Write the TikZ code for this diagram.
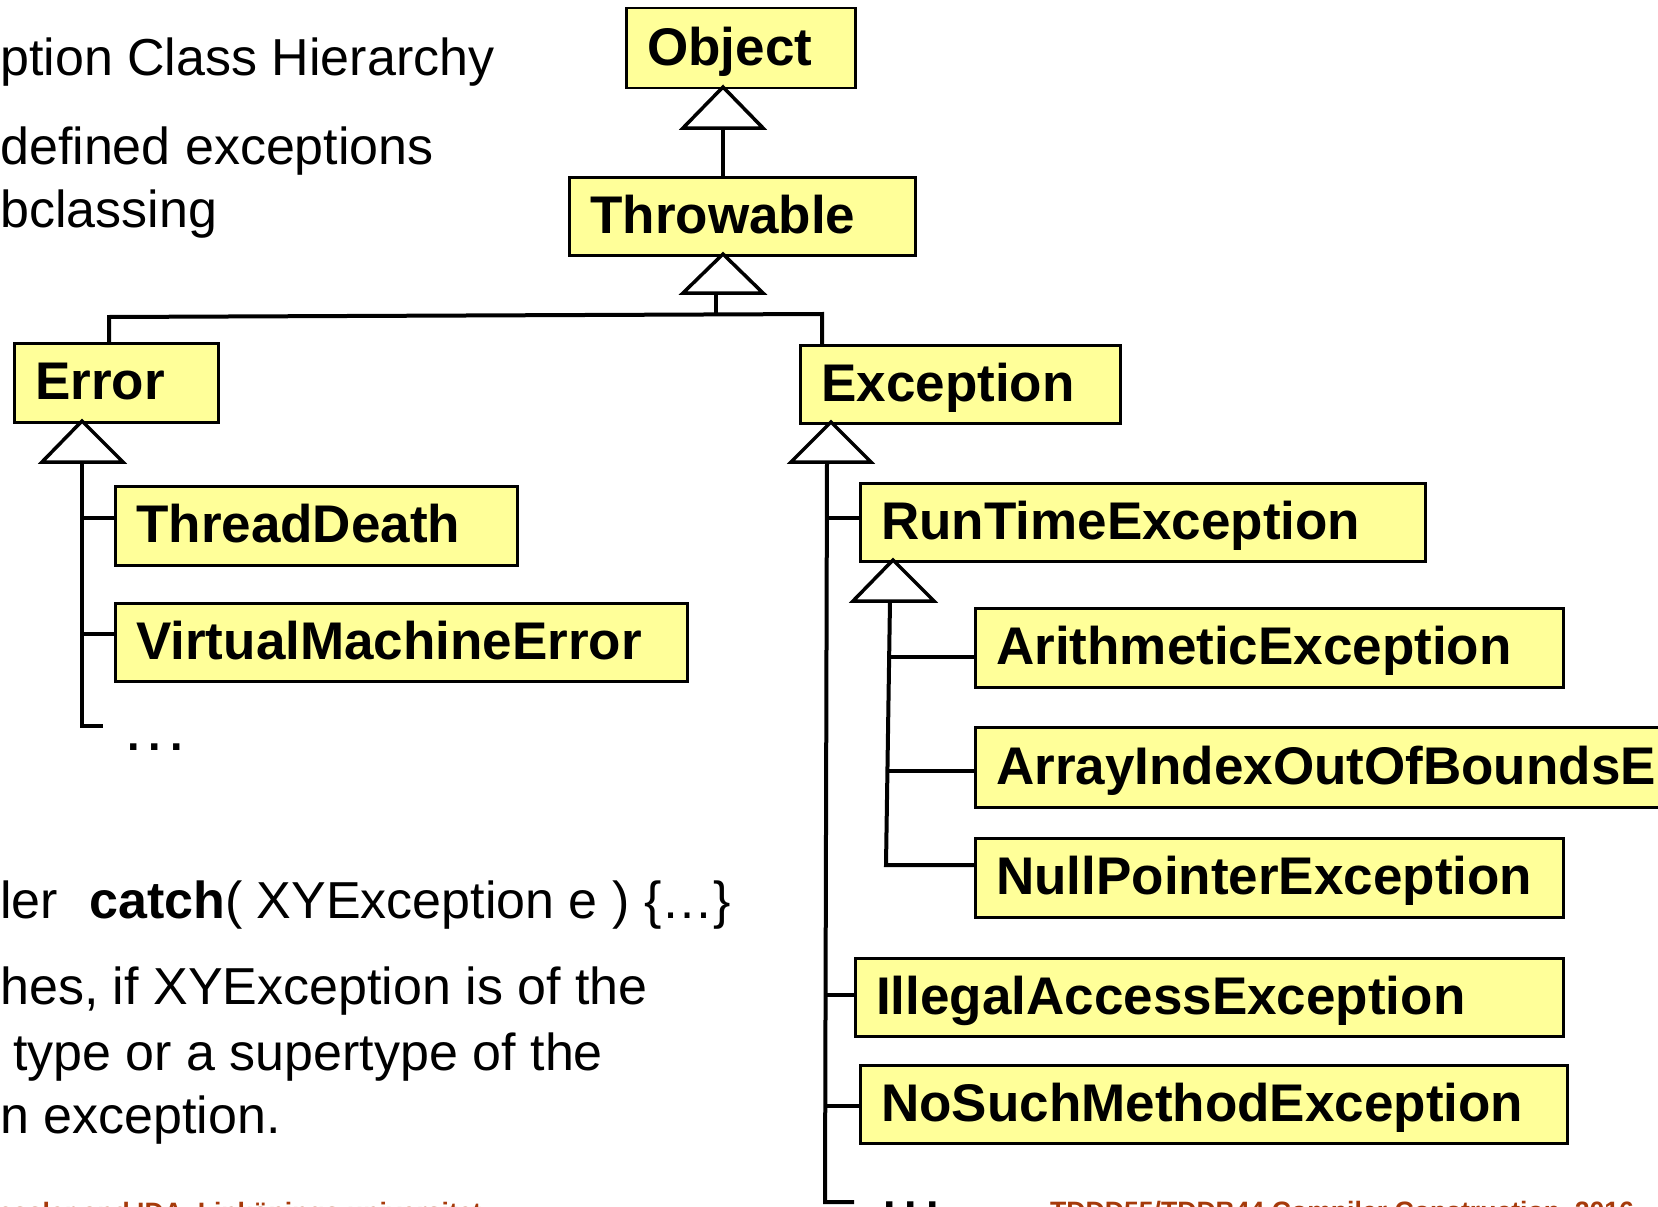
\documentclass[tikz,border=0pt]{standalone}
\usepackage{fontspec}
\setmainfont{Liberation Sans}
\usetikzlibrary{calc}
\definecolor{boxfill}{HTML}{FFFF99}
\definecolor{footred}{HTML}{A63A0A}
\tikzset{
  cls/.style={draw=black, line width=2.5pt, fill=boxfill, anchor=north west,
    inner xsep=21pt, inner ysep=0pt, align=left, text height=38pt, text depth=4pt,
    font=\fontsize{53}{60}\selectfont\bfseries},
  gen/.style={draw=black, line width=3.5pt, fill=white},
  link/.style={draw=black, line width=4pt},
  body/.style={anchor=base west, inner sep=0pt, font=\fontsize{52}{60}\selectfont},
  foot/.style={anchor=base west, inner sep=0pt, text=footred, font=\fontsize{26.6}{30}\selectfont\bfseries},
  dots/.style={anchor=base west, inner sep=0pt, font=\fontsize{45}{50}\selectfont\bfseries},
}
\begin{document}
\begin{tikzpicture}[x=1pt,y=-1pt]
\useasboundingbox (0,0) rectangle (1658,1207);
\clip (0,0) rectangle (1658,1207);
\fill[white] (0,0) rectangle (1658,1207);

% body text
\node[body] (t1) at (0,76) {ption Class Hierarchy};
\node[body] (t2) at (0,164) {defined exceptions};
\node[body] (t3) at (0,227) {bclassing};
\node[body] (t4) at (0,918) {ler\hspace{0.6em}\textbf{catch}( XYException e ) \{…\}};
\node[body] (t5) at (0,1004) {hes, if XYException is of the};
\node[body] (t6) at (13,1070) {type or a supertype of the};
\node[body] (t7) at (0,1133) {n exception.};

% footers
\node[foot] (f1) at (-2,1221) {essler and IDA, Linköpings universitet.};
\node[foot] (f2) at (1050,1220) {TDDD55/TDDB44 Compiler Construction, 2016};

% class boxes
\node[cls, minimum height=80pt, text width=187pt] (obj) at (625,7) {Object};
\node[cls, minimum height=78pt, text width=304pt] (thr) at (568,176) {Throwable};
\node[cls, minimum height=79pt, text width=162pt] (err) at (13,342) {Error};
\node[cls, minimum height=79pt, text width=360pt] (td) at (114,485) {ThreadDeath};
\node[cls, minimum height=78pt, text width=530pt] (vme) at (114,602) {VirtualMachineError};
\node[cls, minimum height=78pt, text width=278pt] (exc) at (799,344) {Exception};
\node[cls, minimum height=78pt, text width=523pt] (rte) at (859,482) {RunTimeException};
\node[cls, minimum height=79pt, text width=546pt] (ari) at (974,607) {ArithmeticException};
\node[cls, minimum height=80pt, text width=678pt] (arr) at (974,726) {ArrayIndexOutOfBoundsE};
\node[cls, minimum height=79pt, text width=546pt] (np) at (974,837) {NullPointerException};
\node[cls, minimum height=78pt, text width=666pt] (ill) at (854,957) {IllegalAccessException};
\node[cls, minimum height=78pt, text width=665pt] (nsm) at (859,1064) {NoSuchMethodException};

% ellipses
\node[dots] (d1) at (127,750) {.\hspace{9pt}.\hspace{9pt}.};
\node[dots] (d2) at (883,1208) {.\hspace{9pt}.\hspace{9pt}.};

% Object <- Throwable
\coordinate (b1) at (723,128);
\draw[link] (b1) -- (b1 |- thr.north);
\draw[gen] (723,87) -- (683,128) -- (763,128) -- cycle;

% Throwable <- Error, Exception
\coordinate (b2) at (716,293);
\coordinate (j0) at (716,316);
\coordinate (j1) at (109,317);
\coordinate (j2) at (822,314);
\draw[link] (b2) -- (j0);
\draw[link, line join=miter] (j1 |- err.north) -- (j1) -- (j2) -- (j2 |- exc.north);
\draw[gen] (723,254) -- (683,293) -- (763,293) -- cycle;

% Error subtree
\coordinate (e0) at (82,462);
\coordinate (e1) at (82,726);
\coordinate (e2) at (103,726);
\coordinate (eb1) at (82,518);
\coordinate (eb2) at (82,634);
\draw[link, line join=miter] (e0) -- (e1) -- (e2);
\draw[link] (eb1) -- (eb1 -| td.west);
\draw[link] (eb2) -- (eb2 -| vme.west);
\draw[gen] (82,421) -- (42,462) -- (123,462) -- cycle;

% Exception subtree
\coordinate (x0) at (827,462);
\coordinate (x1) at (825,1202);
\coordinate (x2) at (854,1202);
\coordinate (xb1) at (826,518);
\coordinate (xb2) at (825,995);
\coordinate (xb3) at (825,1106);
\draw[link, line join=miter] (x0) -- (x1) -- (x2);
\draw[link] (xb1) -- (xb1 -| rte.west);
\draw[link] (xb2) -- (xb2 -| ill.west);
\draw[link] (xb3) -- (xb3 -| nsm.west);
\draw[gen] (831,422) -- (791,462) -- (871,462) -- cycle;

% RunTimeException subtree
\coordinate (r0) at (890,601);
\coordinate (r1) at (886,865);
\coordinate (rb1) at (889,657);
\coordinate (rb2) at (888,771);
\draw[link, line join=miter] (r0) -- (r1) -- (r1 -| np.west);
\draw[link] (rb1) -- (rb1 -| ari.west);
\draw[link] (rb2) -- (rb2 -| arr.west);
\draw[gen] (893,560) -- (853,601) -- (934,601) -- cycle;
\end{tikzpicture}
\end{document}
